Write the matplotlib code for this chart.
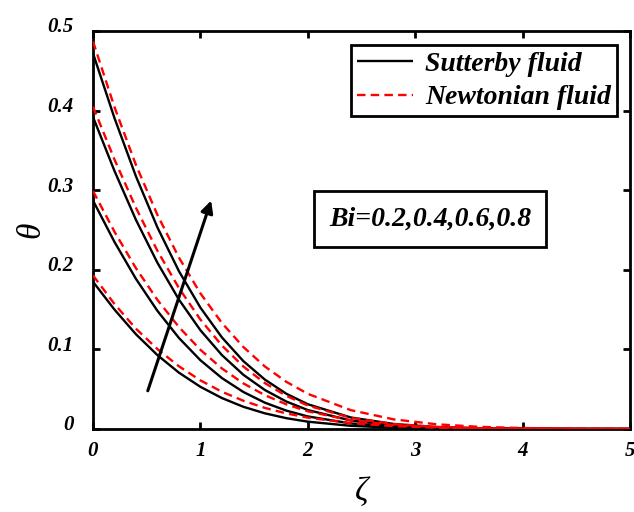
import matplotlib
matplotlib.use("Agg")
import matplotlib.pyplot as plt
from matplotlib.transforms import ScaledTranslation

plt.rcParams['font.family'] = ['Liberation Serif', 'DejaVu Serif']

zeta = [0, 0.2, 0.4, 0.6, 0.8, 1.0, 1.2, 1.4, 1.6, 1.8, 2.0, 2.4, 2.8, 3.2, 3.6, 4.0, 4.5, 5.0]

# Sutterby fluid, Bi = 0.2, 0.4, 0.6, 0.8
sut_bi02 = [0.185, 0.150, 0.119, 0.0928, 0.0708, 0.0530, 0.0389, 0.0279, 0.0197, 0.0136, 0.0092, 0.0040, 0.0016, 0.0006, 0.0002, 0.0001, 0.0, 0.0]
sut_bi04 = [0.287, 0.235, 0.1886, 0.1484, 0.1144, 0.0864, 0.0640, 0.0465, 0.0331, 0.0231, 0.0158, 0.0070, 0.0028, 0.0011, 0.0004, 0.0001, 0.0, 0.0]
sut_bi06 = [0.392, 0.3242, 0.2627, 0.2088, 0.1626, 0.1241, 0.0929, 0.0681, 0.0490, 0.0345, 0.0238, 0.0107, 0.0044, 0.0017, 0.0006, 0.0002, 0.0, 0.0]
sut_bi08 = [0.472, 0.3906, 0.3174, 0.2532, 0.1983, 0.1525, 0.1151, 0.0853, 0.0621, 0.0443, 0.0311, 0.0145, 0.0063, 0.0025, 0.0009, 0.0003, 0.0001, 0.0]

# Newtonian fluid, Bi = 0.2, 0.4, 0.6, 0.8
new_bi02 = [0.193, 0.157, 0.126, 0.1004, 0.0788, 0.0611, 0.0468, 0.0355, 0.0265, 0.0196, 0.0143, 0.0074, 0.0036, 0.0017, 0.00075, 0.0003, 0.0001, 0.0]
new_bi04 = [0.299, 0.2478, 0.2020, 0.1622, 0.1281, 0.0995, 0.0761, 0.0573, 0.0425, 0.0310, 0.0222, 0.0109, 0.0050, 0.0022, 0.0009, 0.0003, 0.0001, 0.0]
new_bi06 = [0.405, 0.3386, 0.2778, 0.2238, 0.1771, 0.1375, 0.1049, 0.0785, 0.0577, 0.0416, 0.0295, 0.0140, 0.0062, 0.0025, 0.0010, 0.0003, 0.0001, 0.0]
new_bi08 = [0.487, 0.4044, 0.3317, 0.2689, 0.2154, 0.1704, 0.1332, 0.1030, 0.0786, 0.0593, 0.0442, 0.0237, 0.0121, 0.0059, 0.0027, 0.0012, 0.0004, 0.0001]

x_ticks = [0, 1, 2, 3, 4, 5]
x_tick_labels = ['0', '1', '2', '3', '4', '5']
y_ticks = [0, 0.1, 0.2, 0.3, 0.4, 0.5]
y_tick_labels = ['0', '0.1', '0.2', '0.3', '0.4', '0.5']

fig = plt.figure(figsize=(6.34, 5.12), dpi=100)
ax = fig.add_axes([93/634, 1 - 429/512, (630 - 93)/634, (429 - 31)/512])

lw = 1.7
sut_series = [sut_bi02, sut_bi04, sut_bi06, sut_bi08]
new_series = [new_bi02, new_bi04, new_bi06, new_bi08]
for i, s in enumerate(sut_series):
    ax.plot(zeta, s, color='black', lw=lw, solid_capstyle='butt',
            label='Sutterby fluid' if i == 0 else None, zorder=3)
for i, s in enumerate(new_series):
    ax.plot(zeta, s, color='red', lw=lw, dashes=(3.6, 2.2),
            label='Newtonian fluid' if i == 0 else None, zorder=4)

ax.set_xlim(0, 5)
ax.set_ylim(0, 0.5)
ax.set_xticks(x_ticks)
ax.set_xticklabels(x_tick_labels)
ax.set_yticks(y_ticks)
ax.set_yticklabels(y_tick_labels)

for sp in ax.spines.values():
    sp.set_linewidth(2.0)
ax.tick_params(direction='in', length=5, width=2, top=True, right=True,
               labelsize=15, pad=9)
ax.tick_params(axis='y', pad=14)
for lab in ax.get_xticklabels() + ax.get_yticklabels():
    lab.set_fontweight('bold')
    lab.set_fontstyle('italic')
off = ScaledTranslation(0, 6/100, fig.dpi_scale_trans)
for lab in ax.get_yticklabels():
    lab.set_transform(lab.get_transform() + off)

ax.set_xlabel('ζ', fontsize=24, fontstyle='italic', labelpad=11)
ax.set_ylabel('θ', fontsize=24, fontstyle='italic', labelpad=1)

leg = ax.legend(loc='upper right', bbox_to_anchor=(617/634, 1 - 45/512),
                bbox_transform=fig.transFigure, fancybox=False, framealpha=1,
                edgecolor='black', handlelength=2.0, handletextpad=0.45,
                borderpad=0.22, labelspacing=0.3, borderaxespad=0,
                prop={'family': 'Liberation Serif', 'weight': 'bold',
                      'style': 'italic', 'size': 20})
leg.get_frame().set_linewidth(2.0)

fig.text(430/634, 1 - 219/512, 'Bi=0.2,0.4,0.6,0.8', fontsize=20,
         fontweight='bold', fontstyle='italic', ha='center', va='center',
         bbox=dict(boxstyle='square,pad=0.55', fc='white', ec='black', lw=2.0))

ax.annotate('', xy=(1.10, 0.287), xytext=(0.51, 0.048),
            arrowprops=dict(arrowstyle='-|>', lw=2.2, color='black',
                            mutation_scale=18, shrinkA=0, shrinkB=0),
            zorder=6)

fig.savefig('out.png', dpi=100)
